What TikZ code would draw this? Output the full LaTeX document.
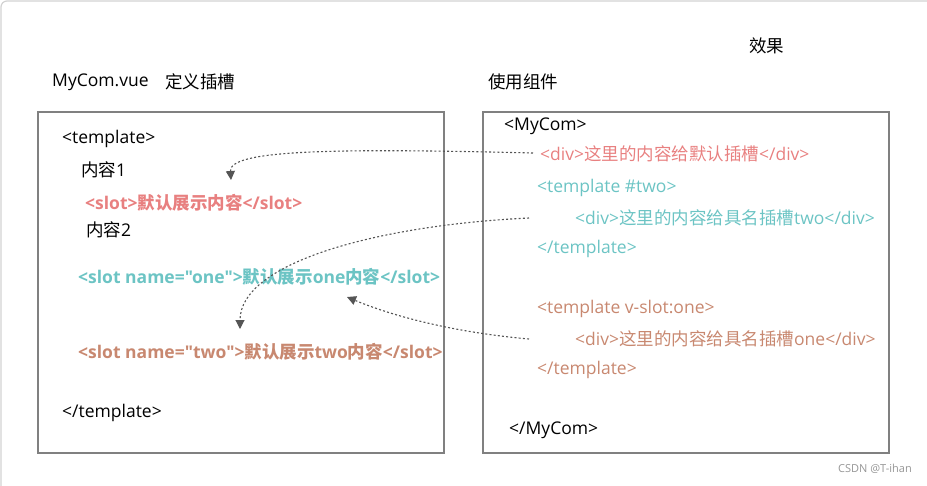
\documentclass[tikz,border=0pt]{standalone}
\usepackage{fontspec}
\setmainfont{Open Sans}[Ligatures=TeXOff]
\newfontfamily\zhfont{Noto Sans CJK SC}
\newcommand\zh[1]{{\zhfont #1}}
\newcommand\dq{\symbol{34}}
\usetikzlibrary{arrows.meta}
\definecolor{cpink}{RGB}{232,128,128}
\definecolor{cteal}{RGB}{108,196,196}
\definecolor{cbrown}{RGB}{200,136,112}
\definecolor{cframe}{RGB}{128,128,128}
\definecolor{carrow}{RGB}{85,85,85}
\tikzset{
  txt/.style={anchor=west,inner sep=0pt,font=\fontsize{17.5}{20}\selectfont},
  btxt/.style={txt,font=\fontsize{17.5}{20}\selectfont\bfseries},
  panel/.style={draw=cframe,line width=1.3pt},
  link/.style={draw=carrow,line width=1.1pt,dash pattern=on 2pt off 2.2pt,
    -{Triangle[width=9pt,length=9pt]}},
}
\begin{document}
\begin{tikzpicture}[x=1pt,y=-1pt]
\useasboundingbox (0,0) rectangle (927,485);
\draw[draw={rgb,255:red,210;green,210;blue,210},line width=1.2pt,rounded corners=6pt] (1,1) rectangle (960,520);
% titles
\node[txt] (t1) at (52,82) {MyCom.vue};
\node[txt] (t2) at (165,82) {\zh{定义插槽}};
\node[txt] (t3) at (488,82) {\zh{使用组件}};
\node[txt] (t4) at (749,46) {\zh{效果}};
% panels
\draw[panel] (38,112) rectangle (444,453);
\draw[panel] (483,112) rectangle (889,453);
% left
\node[txt] (l1) at (62,139) {<template>};
\node[txt] (l2) at (81,170) {\zh{内容}1};
\node[btxt,text=cpink] (l3) at (85,203) {<slot>\zh{默认展示内容}</slot>};
\node[txt] (l4) at (86,230) {\zh{内容}2};
\node[btxt,text=cteal] (l5) at (78,277) {<slot name=\dq one\dq>\zh{默认展示}one\zh{内容}</slot>};
\node[btxt,text=cbrown] (l6) at (78,352) {<slot name=\dq two\dq>\zh{默认展示}two\zh{内容}</slot>};
\node[txt] (l7) at (62,413) {</template>};
% right
\node[txt] (r1) at (504,126) {<MyCom>};
\node[txt,text=cpink] (r2) at (540,154) {<div>\zh{这里的内容给默认插槽}</div>};
\node[txt,text=cteal] (r3) at (537,188) {<template \#two>};
\node[txt,text=cteal] (r4) at (575,218) {<div>\zh{这里的内容给具名插槽}two</div>};
\node[txt,text=cteal] (r5) at (537,249) {</template>};
\node[txt,text=cbrown] (r6) at (537,309) {<template v-slot:one>};
\node[txt,text=cbrown] (r7) at (575,339) {<div>\zh{这里的内容给具名插槽}one</div>};
\node[txt,text=cbrown] (r8) at (537,370) {</template>};
\node[txt] (r9) at (509,430) {</MyCom>};
% targets
\coordinate (a1) at (231,180);
\coordinate (a2) at (240,329);
\coordinate (a3) at (347,297);
\coordinate (s1) at (533,153);
\coordinate (s2) at (529,218);
\coordinate (s3) at (529,339);
\draw[link] (s1) .. controls (330,148) and (229,150) .. (a1);
\draw[link] (s2) .. controls (380,225) and (240,262) .. (a2);
\draw[link] (s3) .. controls (450,332) and (390,315) .. (a3);
% watermark
\node[anchor=east,inner sep=0pt,text={rgb,255:red,150;green,150;blue,150},font=\fontsize{11}{13}\selectfont] (wm) at (912,469) {CSDN @T-ihan};
\end{tikzpicture}
\end{document}
